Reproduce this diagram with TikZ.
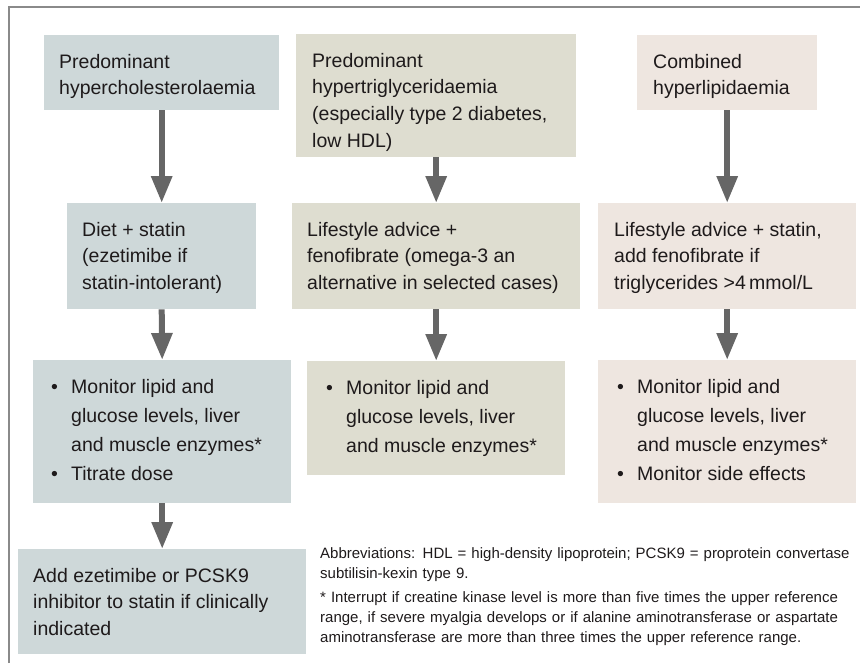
\documentclass[tikz,border=0pt]{standalone}
\usepackage{fontspec}
\setmainfont{Liberation Sans}
\usepackage{xcolor}
\usepackage{tikz}
\usetikzlibrary{arrows.meta}

\definecolor{cholblue}{HTML}{CED8D9}
\definecolor{trigkhaki}{HTML}{DEDDD0}
\definecolor{combpink}{HTML}{EEE6E0}
\definecolor{arrowgrey}{HTML}{666666}
\definecolor{framegrey}{HTML}{8A8A8A}
\definecolor{inkblack}{HTML}{1E1A1B}

% text block of a box: height, width, lines (first baseline 33pt below the top)
\newcommand{\boxtext}[3]{\parbox[c][#1][t]{#2}{\raggedright\vspace*{18.5pt}\leavevmode\rule{0pt}{14.5pt}#3}}
\newcommand{\listbul}{\makebox[20pt][l]{\textbullet}}
\newcommand{\listpad}{\hspace*{20pt}}

\begin{document}
\begin{tikzpicture}[
    x=1pt, y=-1pt,
    every node/.style={text=inkblack},
    box/.style={anchor=north west, inner xsep=15pt, inner ysep=0pt,
      font=\fontsize{19.5}{26.7}\selectfont},
    listbox/.style={box, inner xsep=18pt, font=\fontsize{19.5}{29}\selectfont},
    flow/.style={draw=arrowgrey, line width=6pt, -{Triangle[width=20pt,length=27pt]}}
  ]
    \useasboundingbox (0,0) rectangle (860,667);
    \draw[framegrey, line width=1.5pt] (9,663) -- (9,7) -- (860,7);

    \node[box, fill=cholblue] (hc1) at (44,35)
      {\boxtext{75pt}{205pt}{Predominant\\hypercholesterolaemia}};
    \node[box, fill=cholblue] (hc2) at (67,203)
      {\boxtext{106pt}{159pt}{Diet + statin\\(ezetimibe if\\statin-intolerant)}};
    \node[listbox, fill=cholblue] (hc3) at (33,360)
      {\boxtext{143pt}{222pt}{\listbul Monitor lipid and\\\listpad glucose levels, liver\\\listpad and muscle enzymes*\\\listbul Titrate dose}};
    \node[box, fill=cholblue] (hc4) at (18,549)
      {\boxtext{105pt}{258pt}{Add ezetimibe or PCSK9\\inhibitor to statin if clinically\\indicated}};

    \node[box, inner xsep=16pt, fill=trigkhaki] (tg1) at (296,34)
      {\boxtext{123pt}{248pt}{Predominant\\hypertriglyceridaemia\\(especially type 2 diabetes,\\low HDL)}};
    \node[box, fill=trigkhaki] (tg2) at (292,203)
      {\boxtext{106pt}{258pt}{Lifestyle advice +\\fenofibrate (omega-3 an\\alternative in selected cases)}};
    \node[listbox, inner xsep=19pt, fill=trigkhaki] (tg3) at (307,361)
      {\boxtext{114pt}{220pt}{\listbul Monitor lipid and\\\listpad glucose levels, liver\\\listpad and muscle enzymes*}};

    \node[box, inner xsep=16pt, fill=combpink] (cb1) at (637,35)
      {\boxtext{75pt}{148pt}{Combined\\hyperlipidaemia}};
    \node[box, inner xsep=16pt, fill=combpink] (cb2) at (598,203)
      {\boxtext{106pt}{226pt}{Lifestyle advice + statin,\\add fenofibrate if\\triglycerides >4\,mmol/L}};
    \node[listbox, inner xsep=19pt, fill=combpink] (cb3) at (598,360)
      {\boxtext{143pt}{220pt}{\listbul Monitor lipid and\\\listpad glucose levels, liver\\\listpad and muscle enzymes*\\\listbul Monitor side effects}};

    \node[anchor=north west, inner sep=0pt, align=left, text width=545pt,
      font=\fontsize{15}{20}\selectfont] (notes) at (320,547)
      {Abbreviations: HDL = high-density lipoprotein; PCSK9 = proprotein convertase\\
       subtilisin-kexin type 9.\\[4.5pt]
       * Interrupt if creatine kinase level is more than five times the upper reference\\
       range, if severe myalgia develops or if alanine aminotransferase or aspartate\\
       aminotransferase are more than three times the upper reference range.};

    \draw[flow] (hc1.south) -- (hc2.north);
    \draw[flow] (hc2.south) -- (hc3.north);
    \draw[flow] (hc3.south) -- (hc4.north);
    \draw[flow] (tg1.south) -- (tg2.north);
    \draw[flow] (tg2.south) -- (tg3.north);
    \draw[flow] (cb1.south) -- (cb2.north);
    \draw[flow] (cb2.south) -- (cb3.north);
  \end{tikzpicture}
\end{document}
